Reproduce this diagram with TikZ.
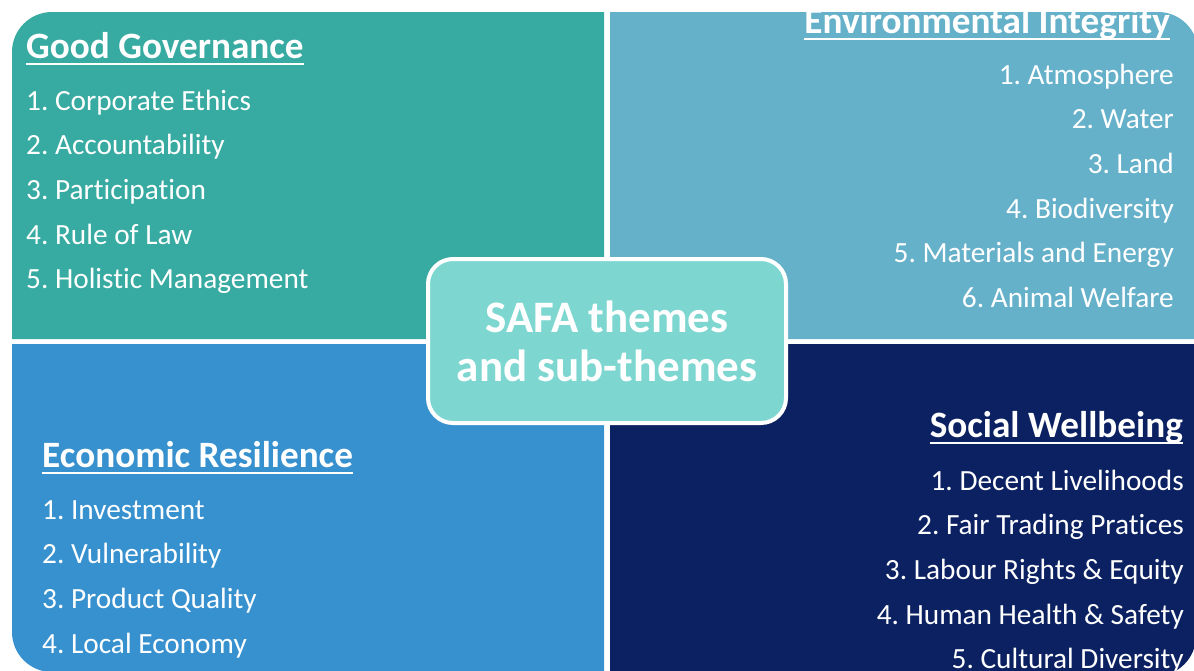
\documentclass[tikz,border=0pt]{standalone}
\usepackage{fontspec}
\setmainfont{Carlito}[Ligatures=NoCommon]
\usetikzlibrary{positioning}
\frenchspacing
\definecolor{govteal}{HTML}{37AAA1}
\definecolor{envblue}{HTML}{66B1CA}
\definecolor{ecoblue}{HTML}{3891CF}
\definecolor{socnavy}{HTML}{0B2161}
\definecolor{hubfill}{HTML}{7DD7D0}

\begin{document}
\begin{tikzpicture}[x=1pt, y=-1pt,
  ttl/.style={inner sep=0pt, text=white, font=\bfseries\fontsize{37.2}{37}\selectfont},
  item/.style={inner sep=0pt, text=white, font=\fontsize{29.3}{29}\selectfont},
  uline/.style={white, line width=2pt},
  hub/.style={draw=white, line width=4pt, fill=hubfill, rounded corners=25pt, minimum width=358pt, minimum height=164pt, align=center, text=white, font=\bfseries\fontsize{45}{49}\selectfont}
]
\useasboundingbox (0,0) rectangle (1194,670);
\clip (0,0) rectangle (1194,670);

% good governance
\begin{scope}
\clip (12,339) -- (12,52) arc[start angle=180, end angle=270, radius=40] -- (604,12) -- (604,339) -- cycle;
\fill[govteal] (0,0) rectangle (610,344);
\node[ttl, anchor=base west] (gov) at (26,58) {Good Governance};
\draw[uline] ([yshift=-6pt]gov.base west) -- ([yshift=-6pt]gov.base east);
\foreach \s [count=\i] in {Corporate Ethics, Accountability, Participation, Rule of Law, Holistic Management}
  \node[item, anchor=base west] (gov\i) at (26,110+44.7*\i-44.7) {\i. \s};
\end{scope}

% environmental integrity
\begin{scope}
\clip (610,339) -- (610,12) -- (1158,12) arc[start angle=270, end angle=360, radius=40] -- (1198,339) -- cycle;
\fill[envblue] (604,0) rectangle (1200,344);
\node[ttl, anchor=base east] (env) at (1170,33) {Environmental Integrity};
\draw[uline] ([yshift=-6pt]env.base west) -- ([yshift=-6pt]env.base east);
\foreach \s [count=\i] in {Atmosphere, Water, Land, Biodiversity, Materials and Energy, Animal Welfare}
  \node[item, anchor=base east] (env\i) at (1174,84+44.7*\i-44.7) {\i. \s};
\end{scope}

% economic resilience
\begin{scope}
\clip (12,344) -- (604,344) -- (604,672) -- (52,672) arc[start angle=90, end angle=180, radius=40] -- cycle;
\fill[ecoblue] (0,339) rectangle (610,680);
\node[ttl, anchor=base west] (eco) at (42,467) {Economic Resilience};
\draw[uline] ([yshift=-6pt]eco.base west) -- ([yshift=-6pt]eco.base east);
\foreach \s [count=\i] in {Investment, Vulnerability, Product Quality, Local Economy}
  \node[item, anchor=base west] (eco\i) at (42,519+44.7*\i-44.7) {\i. \s};
\end{scope}

% social wellbeing
\begin{scope}
\clip (610,344) -- (1196,344) -- (1196,636) arc[start angle=0, end angle=90, radius=40] -- (610,676) -- cycle;
\fill[socnavy] (604,339) rectangle (1200,680);
\node[ttl, anchor=base east] (soc) at (1183,437) {Social Wellbeing};
\draw[uline] ([yshift=-6pt]soc.base west) -- ([yshift=-6pt]soc.base east);
\foreach \s [count=\i] in {Decent Livelihoods, Fair Trading Pratices, Labour Rights \& Equity, Human Health \& Safety, Cultural Diversity}
  \node[item, anchor=base east] (soc\i) at (1184,490+44.7*\i-44.7) {\i. \s};
\end{scope}

\node[hub] (safa) at (607,341) {SAFA themes\\and sub-themes};
\end{tikzpicture}
\end{document}
